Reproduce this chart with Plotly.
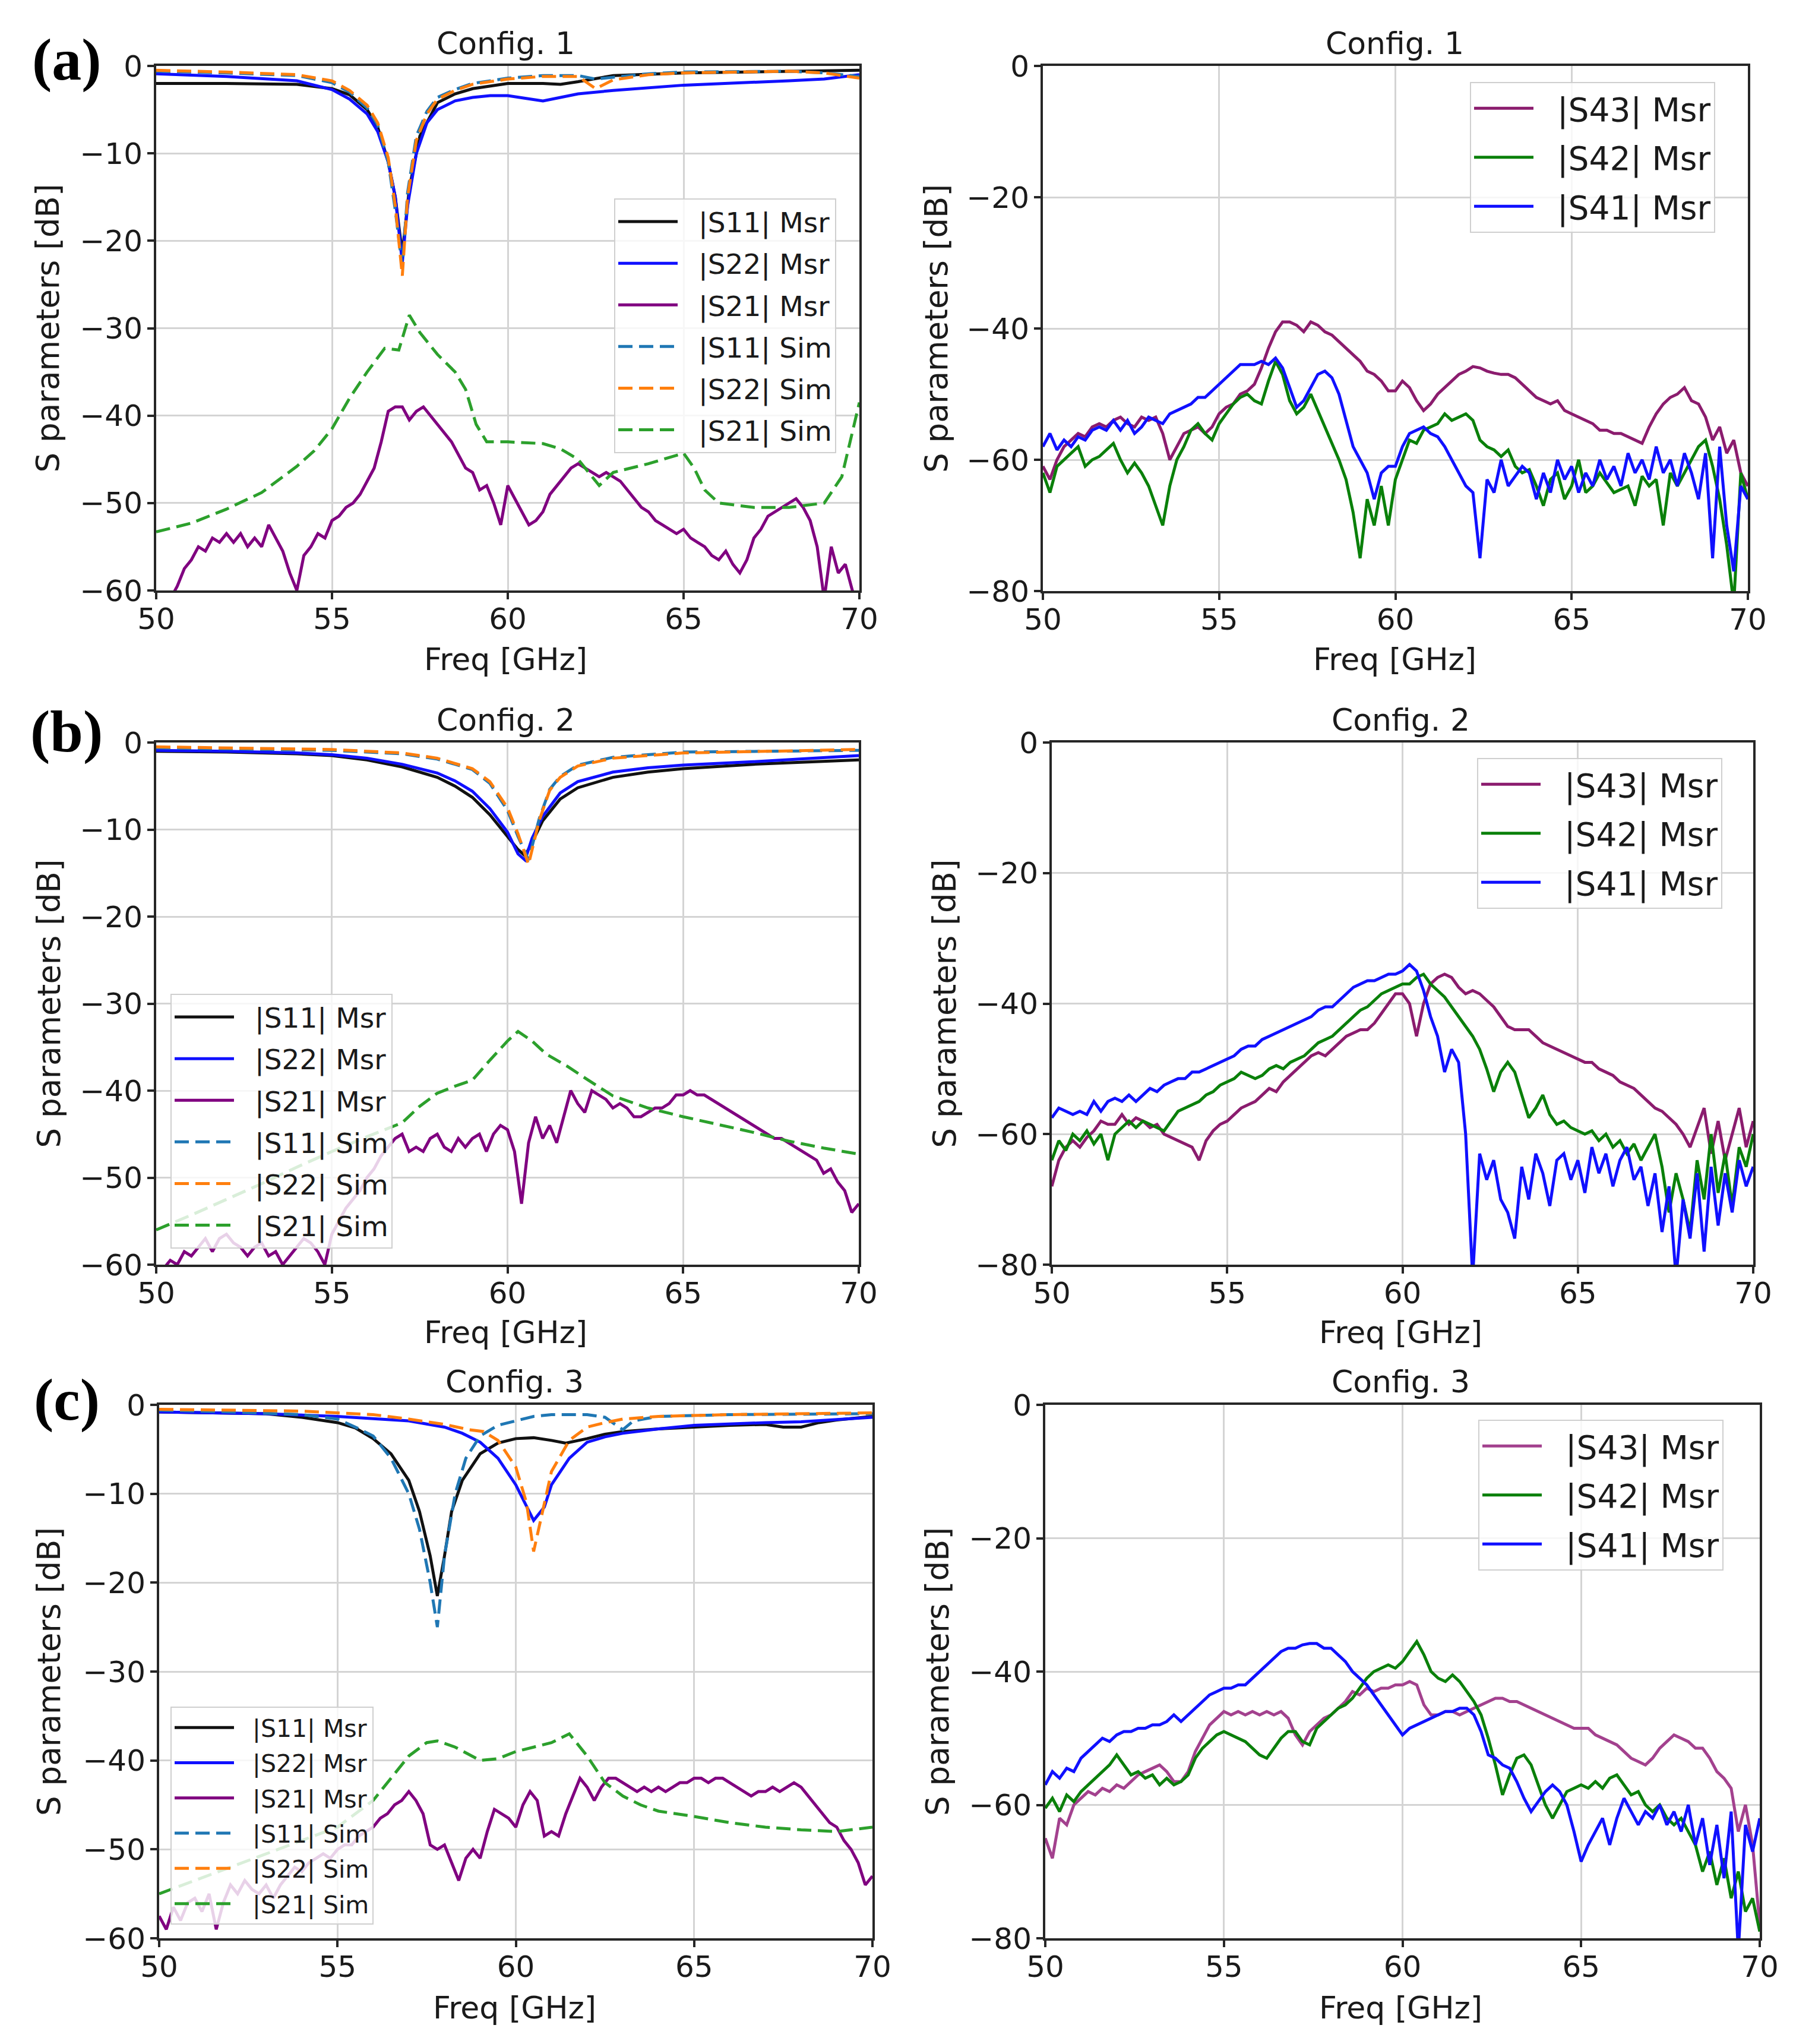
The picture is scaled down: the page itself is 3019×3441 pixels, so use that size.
import plotly.graph_objects as go

W, H = 3019, 3441

# ---------------- data ----------------
FREQ = [round(50 + 0.2 * i, 1) for i in range(101)]   # common measurement grid (GHz)

# ---- Config. 1, reflection / transmission (left) ----
A_S11_MSR_F = [50, 52, 54, 55, 55.5, 56, 56.3, 56.6, 56.8, 57.0, 57.2, 57.5, 58, 58.5, 59, 60, 61, 61.5, 62, 63, 65, 68, 70]
A_S11_MSR = [-2, -2.0, -2.1, -2.6, -3.3, -5, -7, -11, -15, -21.5, -14, -8, -4.2, -3.2, -2.6, -2, -2, -2.1, -1.8, -1.1, -0.8, -0.6, -0.5]
A_S22_MSR_F = [50, 52, 54, 55, 55.5, 56, 56.3, 56.6, 56.8, 57.0, 57.15, 57.4, 57.7, 58, 58.5, 59, 59.5, 60, 60.5, 61, 61.5, 62, 63, 65, 68, 69, 70]
A_S22_MSR = [-0.9, -1.2, -1.7, -2.7, -3.8, -5.5, -7.5, -11, -15, -22.5, -16, -10, -6.5, -5, -4, -3.6, -3.4, -3.4, -3.7, -4, -3.6, -3.2, -2.8, -2.2, -1.7, -1.5, -1.0]
A_S21_MSR = [
    -63, -64, -61, -59.5, -57.5, -56.5, -55, -55.5, -54, -54.5,
    -53.5, -54.5, -53.5, -55, -54, -55, -52.5, -54, -55.5, -58,
    -60, -56, -55, -53.5, -54, -52, -51.5, -50.5, -50, -49,
    -47.5, -46, -43, -39.5, -39, -39, -40.5, -39.5, -39, -40,
    -41, -42, -43, -44.5, -46, -46.5, -48.5, -48, -50, -52.5,
    -48, -49.5, -51, -52.5, -52, -51, -49, -48, -47, -46,
    -45.5, -46, -46.5, -47, -46.5, -47, -47.5, -48.5, -49.5, -50.5,
    -51, -52, -52.5, -53, -53.5, -53, -54, -54.5, -55, -56,
    -56.5, -55.5, -57, -58, -56.5, -54, -53, -51.5, -51, -50.5,
    -50, -49.5, -50.5, -52, -55, -61, -55, -58, -57, -60,
    -61.5]
A_SIM_F = [50, 52, 54, 55, 55.5, 56, 56.3, 56.6, 56.8, 57.0, 57.15, 57.4, 57.7, 58, 58.5, 59, 60, 61, 62, 62.5, 63, 64, 65, 68, 69, 70]
A_S11_SIM = [-0.6, -0.8, -1.1, -1.9, -3.0, -4.8, -6.8, -11, -16.5, -23, -14.5, -8, -5.2, -3.6, -2.7, -2.0, -1.4, -1.1, -1.1, -1.5, -1.3, -0.9, -0.7, -0.6, -0.8, -1.2]
A_S22_SIM = [-0.5, -0.7, -1.0, -1.7, -2.8, -4.5, -6.5, -10.5, -16, -24, -15, -8.5, -5.5, -3.8, -2.8, -2.1, -1.5, -1.2, -1.2, -2.6, -1.6, -1.0, -0.8, -0.6, -0.8, -1.4]
A_S21_SIM_F = [50, 51, 52, 53, 54, 54.5, 55, 55.5, 56, 56.5, 56.9, 57.2, 57.5, 58, 58.5, 58.8, 59.1, 59.4, 60, 61, 61.5, 62, 62.3, 62.6, 63, 64, 65, 65.3, 65.6, 66, 67, 68, 69, 69.5, 70]
A_S21_SIM = [-53.3, -52.3, -50.7, -48.8, -45.8, -44, -41.5, -38, -35, -32.3, -32.5, -28.5, -30.5, -33, -35, -37, -41, -43, -43, -43.2, -43.8, -45, -46.5, -48, -46.5, -45.5, -44.3, -46, -48.5, -50, -50.5, -50.5, -50, -47, -38.5]

# ---- Config. 1, coupling (right) ----
A_S43 = [
    -61, -63, -60, -58, -57, -56, -56.5, -55, -54.5, -55,
    -54, -53.5, -54.5, -55, -53.5, -54, -53.5, -56, -60, -58,
    -56, -55.5, -55, -56, -55, -53, -52, -51.5, -50, -49.5,
    -48.5, -46, -43, -40.5, -39, -39, -39.5, -40.5, -39, -39.5,
    -40.5, -41, -42, -43, -44, -45, -46.5, -47, -48, -49.5,
    -49.5, -48, -49, -51, -52.5, -51.5, -50, -49, -48, -47,
    -46.5, -45.8, -46, -46.5, -46.8, -47, -47, -47.5, -48.5, -49.5,
    -50.5, -51, -51.5, -51, -52.5, -53, -53.5, -54, -54.5, -55.5,
    -55.5, -56, -56, -56.5, -57, -57.5, -55, -53, -51.5, -50.5,
    -50, -49, -51, -51.5, -53.5, -57, -55, -59, -57, -62,
    -64]
A_S42 = [
    -62, -65, -61, -60, -59, -58, -61, -60, -59.5, -58.5,
    -57.5, -60, -62, -60.5, -62, -64, -67, -70, -64, -60,
    -58, -55.5, -54.5, -56, -57, -54.5, -53, -51.5, -50.5, -50,
    -51, -51.5, -48, -45, -47, -51, -53, -52, -50, -52.5,
    -55, -57.5, -60, -63, -68, -75, -66, -70, -64, -70,
    -63, -60, -57, -57.5, -55.5, -55, -54.5, -53, -54, -53.5,
    -53, -54, -57, -58, -58.5, -59.5, -58.5, -61, -62, -61.5,
    -64, -67, -63, -62, -66, -64, -60, -65, -64, -62,
    -63.5, -65, -64.5, -64, -67, -62.5, -64, -63, -70, -62,
    -64, -62, -60, -58, -57, -61, -66, -73, -82, -62,
    -66]
A_S41 = [
    -58, -56, -58.5, -57, -58, -56.5, -57, -55.5, -55, -55.5,
    -54, -55.5, -54, -56, -55, -53.5, -54, -54.5, -53, -52.5,
    -52, -51.5, -50.5, -50.5, -49.5, -48.5, -47.5, -46.5, -45.5, -45.5,
    -45.5, -45, -45.5, -44.5, -46, -49, -52, -51, -49, -47,
    -46.5, -47.5, -50, -54, -58, -60, -62, -66, -62, -61,
    -61, -58, -56, -55.5, -55, -56, -56.5, -58, -60, -62,
    -64, -65, -75, -63, -65, -60, -64, -62.5, -61, -62,
    -66, -62, -65, -60, -63, -61, -65, -62, -64, -60,
    -63, -61, -64, -59, -62, -60, -63, -58, -62, -60,
    -64, -59, -62, -66, -59, -75, -58, -70, -77, -64,
    -66]

# ---- Config. 2, left ----
B_MSR_F = [50, 52, 54, 55, 56, 57, 58, 58.5, 59, 59.5, 60, 60.3, 60.5, 60.7, 61, 61.5, 62, 63, 64, 65, 67, 70]
B_S11_MSR = [-1, -1.1, -1.3, -1.5, -2, -2.8, -4, -5, -6.3, -8.3, -10.8, -12.3, -13, -11.5, -9, -6.5, -5.2, -4, -3.4, -3, -2.5, -2]
B_S22_MSR = [-0.9, -1.0, -1.2, -1.4, -1.8, -2.5, -3.5, -4.4, -5.6, -7.6, -10.3, -12.8, -13.5, -11, -8.5, -5.8, -4.5, -3.4, -2.9, -2.6, -2.2, -1.5]
B_S21_MSR = [
    -61, -60.5, -59.5, -60, -58.5, -59, -58, -57, -58.5, -57,
    -56.5, -57.5, -58, -59, -58, -57.5, -59, -58.5, -60, -59,
    -58, -57, -57.5, -58.5, -60, -56.5, -55, -53.5, -52.5, -51.5,
    -50, -49, -47.5, -46.5, -45.5, -45, -47, -46.5, -47, -45.5,
    -45, -46.5, -47, -45.5, -46.5, -45.5, -45, -47, -45, -44,
    -44.5, -47, -53, -46, -43, -45.5, -44, -46, -43, -40,
    -41.5, -42.5, -40, -40.5, -41, -42, -41.5, -42, -43, -43,
    -42.5, -42, -42, -41.5, -40.5, -40.5, -40, -40.5, -40.5, -41,
    -41.5, -42, -42.5, -43, -43.5, -44, -44.5, -45, -45.5, -45.5,
    -46, -46.5, -47, -47.5, -48, -49.5, -49, -50.5, -51.5, -54,
    -53]
B_SIM_F = [50, 52, 55, 57, 58, 59, 59.5, 60, 60.3, 60.6, 60.9, 61.2, 61.5, 62, 63, 65, 70]
B_S11_SIM = [-0.6, -0.7, -0.9, -1.3, -1.9, -3.1, -4.7, -7.8, -10.8, -13.5, -8.8, -5.4, -3.9, -2.6, -1.7, -1.1, -0.9]
B_S22_SIM = [-0.5, -0.6, -0.8, -1.2, -1.8, -3, -4.5, -7.5, -10.5, -14, -9, -5.5, -4, -2.7, -1.8, -1.2, -0.8]
B_S21_SIM_F = [50, 51, 52, 53, 54, 55, 56, 57, 57.5, 58, 58.5, 59, 59.5, 60, 60.3, 60.7, 61.1, 61.7, 62.3, 63, 64, 65, 66, 67, 68, 69, 70]
B_S21_SIM = [-56, -54.3, -52.5, -50.7, -48.8, -47, -45.3, -43.7, -41.8, -40.3, -39.5, -38.8, -36.5, -34.3, -33.2, -34.3, -35.8, -37.2, -38.8, -40.6, -42, -43, -43.9, -44.8, -45.8, -46.6, -47.3]

# ---- Config. 2, right ----
B_S43 = [
    -68, -64, -62, -61, -62, -60.5, -59.5, -58, -58.5, -58.5,
    -57, -58.5, -57.5, -58, -59, -58.5, -60, -60.5, -61, -61.5,
    -62, -64, -61, -59.5, -58.5, -58, -57, -56, -55.5, -55,
    -54, -53, -53.5, -52, -51, -50, -49, -48, -47.5, -48,
    -47, -46, -45, -44.5, -44, -44, -43, -41.5, -40, -38.5,
    -38.5, -40, -45, -40, -37, -36, -35.5, -36, -37.5, -38.5,
    -38, -38.5, -39.5, -40.5, -42, -43.5, -44, -44, -44, -45,
    -46, -46.5, -47, -47.5, -48, -48.5, -49, -49, -50, -50.5,
    -51, -52, -52.5, -53, -54, -55, -56, -56.5, -57.5, -58.5,
    -60, -62, -59, -56, -63, -58, -64, -60, -56, -62,
    -58]
B_S42 = [
    -64, -61, -62.5, -60, -61, -59.5, -61.5, -60, -64, -60,
    -59, -58, -59, -58, -58.5, -59, -59.5, -58, -56.5, -56,
    -55.5, -55, -54, -53.5, -52.5, -52, -51.5, -50.5, -51, -51.5,
    -51, -50, -49.5, -50, -49, -48.5, -48, -47, -46, -45.5,
    -45, -44, -43, -42, -41, -40.5, -39.5, -38.5, -38, -37.5,
    -37, -37, -36, -35.5, -37, -38, -39, -40.5, -42, -43.5,
    -45, -47, -50, -53.5, -50.5, -49, -50.5, -54, -57.5, -56,
    -54, -57, -58.5, -58, -59, -59.5, -60, -59.5, -61, -60,
    -62, -61, -63, -61.5, -64, -62, -60, -65, -72, -66,
    -70, -75, -64, -70, -60, -69, -63, -71, -62, -65,
    -60]
B_S41 = [
    -57.5, -56, -56.5, -57, -56.5, -57, -55, -56.5, -55, -54.5,
    -55, -54, -55, -54, -53, -53.5, -52.5, -52, -51.5, -51.5,
    -50.5, -50.5, -50, -49.5, -49, -48.5, -48, -47, -46.5, -46.5,
    -45.5, -45, -44.5, -44, -43.5, -43, -42.5, -42, -41, -40.5,
    -40.5, -39.5, -38.5, -37.5, -37, -36.5, -36.5, -36, -35.5, -35.5,
    -35, -34, -35, -38, -42, -45, -50.5, -47, -49, -60,
    -82, -63, -67, -64, -70, -72, -76, -65, -70, -63,
    -66, -71, -64, -63, -67, -64, -69, -62, -66, -63,
    -68, -64, -62, -67, -65, -71, -66, -75, -68, -82,
    -70, -76, -66, -78, -65, -74, -66, -72, -64, -68,
    -65]

# ---- Config. 3, left ----
C_S11_MSR_F = [50, 52, 53, 54, 55, 55.5, 56, 56.5, 57, 57.3, 57.6, 57.8, 58.0, 58.2, 58.5, 59, 59.5, 60, 60.5, 61, 61.4, 62, 62.5, 63, 64, 65, 66, 67, 67.5, 68, 68.5, 69, 70]
C_S11_MSR = [-0.8, -0.9, -1.0, -1.4, -2.0, -2.6, -3.8, -5.5, -8.5, -12, -17, -21.5, -17, -12, -8.5, -5.5, -4.3, -3.8, -3.7, -4.0, -4.3, -3.8, -3.3, -3.0, -2.7, -2.5, -2.3, -2.2, -2.5, -2.5, -2.0, -1.7, -1.3]
C_S22_MSR_F = [50, 53, 55, 57, 58, 58.5, 59, 59.5, 60, 60.3, 60.5, 60.8, 61, 61.5, 62, 62.5, 63, 64, 65, 67, 68, 70]
C_S22_MSR = [-0.8, -1.0, -1.3, -1.8, -2.5, -3.2, -4.2, -6, -9, -11.5, -13, -11.5, -9, -6, -4.2, -3.6, -3.2, -2.7, -2.3, -2.0, -1.9, -1.4]
C_S21_MSR = [
    -57.5, -59, -56.5, -58, -56, -55.5, -57, -55, -59, -56,
    -54, -55, -53.5, -54.5, -55, -54, -55.5, -54, -53, -52,
    -52.5, -51.5, -51, -50.5, -51, -50, -49.5, -49.5, -48.5, -48,
    -47.5, -46.5, -46, -45, -44.5, -43.5, -44.5, -46, -49.5, -50,
    -49.5, -51.5, -53.5, -51, -50, -51, -48, -45.5, -46, -46.5,
    -47.5, -45, -43.5, -44.5, -48.5, -48, -48.5, -46, -44, -42,
    -43, -44.5, -43, -42, -42, -42.5, -43, -43.5, -43, -43.5,
    -43, -43.5, -43, -42.5, -42.5, -42, -42, -42.5, -42, -42,
    -42.5, -43, -43.5, -44, -43.5, -43.5, -43, -43.5, -43, -42.5,
    -43, -44, -45, -46, -47, -47.5, -49, -50, -51.5, -54,
    -53]
C_S11_SIM_F = [50, 52, 54, 55, 55.5, 56, 56.5, 57, 57.3, 57.6, 57.8, 58.0, 58.3, 58.6, 59, 59.5, 60, 60.5, 61, 62, 62.5, 63, 63.3, 64, 66, 70]
C_S11_SIM = [-0.6, -0.8, -1.1, -1.6, -2.5, -3.5, -6, -10, -14, -20, -25, -17, -10, -6, -3.5, -2.3, -1.8, -1.3, -1.1, -1.1, -1.4, -2.8, -1.8, -1.3, -1.1, -1.0]
C_S22_SIM_F = [50, 54, 56, 57, 58, 58.7, 59.1, 59.5, 60, 60.3, 60.5, 60.8, 61, 61.5, 62, 62.5, 63, 64, 66, 70]
C_S22_SIM = [-0.5, -0.7, -1.1, -1.6, -2.2, -2.8, -3.0, -4.0, -7.0, -11, -16.5, -11, -7.5, -4.0, -2.5, -2.0, -1.6, -1.3, -1.1, -0.9]
C_S21_SIM_F = [50, 51, 52, 53, 54, 55, 56, 56.5, 57, 57.5, 57.8, 58.3, 59, 59.5, 60, 60.5, 61, 61.5, 62, 62.5, 63, 63.5, 64, 65, 66, 67, 68, 69, 70]
C_S21_SIM = [-55, -53.5, -52, -50.5, -49, -47.5, -44.5, -42, -39.5, -38, -37.8, -38.5, -40, -39.8, -39, -38.5, -38, -37, -39.5, -42.5, -44, -45, -45.7, -46.3, -47, -47.5, -47.8, -48, -47.5]

# ---- Config. 3, right ----
C_S43 = [
    -65, -68, -62, -63, -60, -59, -58, -58.5, -57.5, -58,
    -57, -57.5, -56.5, -55.5, -55, -54.5, -54, -55, -56.5, -56.5,
    -55, -52, -50, -48, -47, -46, -46.5, -46, -46.5, -46,
    -46.5, -46, -46.5, -46, -47, -49.5, -51, -49, -48, -47,
    -46.5, -45.5, -44.5, -43, -43.5, -42.5, -43, -42.5, -42.5, -42,
    -42, -41.5, -42, -45, -46.5, -46.5, -46, -46, -46.5, -46,
    -45.5, -45, -44.5, -44, -44, -44.5, -44.5, -45, -45.5, -46,
    -46.5, -47, -47.5, -48, -48.5, -48.5, -48.5, -49.5, -50, -50.5,
    -51, -52, -53, -53.5, -54, -53, -51.5, -50.5, -49.5, -50,
    -50.5, -51.5, -51.5, -53, -55, -56, -57.5, -64, -60, -66,
    -78]
C_S42 = [
    -60.5, -59, -61, -58.5, -59.5, -58, -57, -56, -55, -54,
    -52.5, -54, -55.5, -55, -56, -55.5, -57, -56, -57, -56.5,
    -55.5, -53, -51.5, -50.5, -49.5, -49, -49.5, -50, -50.5, -51.5,
    -52.5, -53, -51.5, -50, -49, -49, -50.5, -51, -48.5, -47.5,
    -46.5, -45.5, -45, -44, -42.5, -41, -40, -39.5, -39, -39.5,
    -38.5, -37, -35.5, -37.5, -40, -41, -41.5, -40.5, -41.5, -43,
    -44.5, -46.5, -50, -54, -58.5, -55.5, -53, -52.5, -54, -57,
    -60, -62, -60, -58, -57.5, -57, -57.5, -56.5, -57.5, -56,
    -55.5, -57, -58.5, -58, -60, -61, -60, -62, -63, -62,
    -64, -66, -70, -67, -72, -68, -74, -70, -76, -74,
    -79]
C_S41 = [
    -57, -55, -56, -54.5, -55, -53, -52, -51, -50, -50.5,
    -49.5, -49, -49, -48.5, -48.5, -48, -48, -47.5, -46.5, -47.5,
    -46.5, -45.5, -44.5, -43.5, -43, -42.5, -42.5, -42, -42, -41,
    -40, -39, -38, -37, -36.5, -36.5, -36, -35.8, -35.8, -36.5,
    -36.5, -37.5, -38.5, -40, -41, -42, -43.5, -45, -46.5, -48,
    -49.5, -48.5, -48, -47.5, -47, -46.5, -46, -46, -45.5, -45.5,
    -46.5, -49, -52.5, -53, -54, -54.5, -56.5, -59, -61, -59.5,
    -58, -57, -58, -60, -64, -68.5, -66, -64, -62, -66,
    -62, -59, -61, -63, -61, -62, -60, -63, -61, -64,
    -60, -66, -62, -69, -63, -71, -61, -82, -63, -67,
    -62]

# ---------------- styling / layout constants ----------------
COL_BLACK, COL_BLUE, COL_PURPLE = "#111111", "#1010ff", "#800080"
COL_TBLUE, COL_TORANGE, COL_TGREEN = "#1f77b4", "#ff7f0e", "#2ca02c"
COL_S43, COL_S43_C, COL_S42, COL_S41 = "#8b1c6e", "#a3418e", "#0a800a", "#1010ff"
FONT = "DejaVu Sans"
LW = 5
DASH = "24px,11px"
NB = "\u00a0\u00a0"
OFF = 8   # page body margin of the html page, compensated here

# plot boxes in target-image pixels (x0, x1, y0, y1)
BOXES = {
    1: (263, 1447, 111, 994),
    2: (1756, 2943, 111, 995),
    3: (263, 1446, 1250, 2129),
    4: (1771, 2952, 1250, 2129),
    5: (268, 1469, 2365, 3263),
    6: (1760, 2963, 2365, 3263),
}


def px(x):
    return (x - OFF) / W


def py(y):
    return 1 - (y - OFF) / H


fig = go.Figure()
_count = [0]


def add(panel, x, y, name, color, dash=None, legend=None):
    _count[0] += 1
    fig.add_trace(go.Scatter(
        x=x, y=y, name=NB + name, mode="lines",
        line=dict(color=color, width=LW, dash=dash if dash else "solid"),
        xaxis="x" if panel == 1 else f"x{panel}",
        yaxis="y" if panel == 1 else f"y{panel}",
        legend=legend, legendgroup=f"g{_count[0]}", showlegend=True,
    ))


# panel 1
add(1, A_S11_MSR_F, A_S11_MSR, "|S11| Msr", COL_BLACK, legend="legend")
add(1, A_S22_MSR_F, A_S22_MSR, "|S22| Msr", COL_BLUE, legend="legend")
add(1, FREQ, A_S21_MSR, "|S21| Msr", COL_PURPLE, legend="legend")
add(1, A_SIM_F, A_S11_SIM, "|S11| Sim", COL_TBLUE, DASH, "legend")
add(1, A_SIM_F, A_S22_SIM, "|S22| Sim", COL_TORANGE, DASH, "legend")
add(1, A_S21_SIM_F, A_S21_SIM, "|S21| Sim", COL_TGREEN, DASH, "legend")
# panel 2
add(2, FREQ, A_S43, "|S43| Msr", COL_S43, legend="legend2")
add(2, FREQ, A_S42, "|S42| Msr", COL_S42, legend="legend2")
add(2, FREQ, A_S41, "|S41| Msr", COL_S41, legend="legend2")
# panel 3
add(3, B_MSR_F, B_S11_MSR, "|S11| Msr", COL_BLACK, legend="legend3")
add(3, B_MSR_F, B_S22_MSR, "|S22| Msr", COL_BLUE, legend="legend3")
add(3, FREQ, B_S21_MSR, "|S21| Msr", COL_PURPLE, legend="legend3")
add(3, B_SIM_F, B_S11_SIM, "|S11| Sim", COL_TBLUE, DASH, "legend3")
add(3, B_SIM_F, B_S22_SIM, "|S22| Sim", COL_TORANGE, DASH, "legend3")
add(3, B_S21_SIM_F, B_S21_SIM, "|S21| Sim", COL_TGREEN, DASH, "legend3")
# panel 4
add(4, FREQ, B_S43, "|S43| Msr", COL_S43, legend="legend4")
add(4, FREQ, B_S42, "|S42| Msr", COL_S42, legend="legend4")
add(4, FREQ, B_S41, "|S41| Msr", COL_S41, legend="legend4")
# panel 5
add(5, C_S11_MSR_F, C_S11_MSR, "|S11| Msr", COL_BLACK, legend="legend5")
add(5, C_S22_MSR_F, C_S22_MSR, "|S22| Msr", COL_BLUE, legend="legend5")
add(5, FREQ, C_S21_MSR, "|S21| Msr", COL_PURPLE, legend="legend5")
add(5, C_S11_SIM_F, C_S11_SIM, "|S11| Sim", COL_TBLUE, DASH, "legend5")
add(5, C_S22_SIM_F, C_S22_SIM, "|S22| Sim", COL_TORANGE, DASH, "legend5")
add(5, C_S21_SIM_F, C_S21_SIM, "|S21| Sim", COL_TGREEN, DASH, "legend5")
# panel 6
add(6, FREQ, C_S43, "|S43| Msr", COL_S43_C, legend="legend6")
add(6, FREQ, C_S42, "|S42| Msr", COL_S42, legend="legend6")
add(6, FREQ, C_S41, "|S41| Msr", COL_S41, legend="legend6")

layout = dict(
    width=W, height=H, margin=dict(l=0, r=0, t=0, b=0, pad=0, autoexpand=False),
    paper_bgcolor="white", plot_bgcolor="white",
    font=dict(family=FONT, color="#1a1a1a", size=50),
)

AXCOMMON = dict(
    showgrid=True, gridcolor="#d4d4d4", gridwidth=3,
    showline=True, linecolor="#262626", linewidth=4, mirror=True,
    ticks="outside", ticklen=11, tickwidth=3.5, tickcolor="#262626",
    tickfont=dict(family=FONT, size=50, color="#1a1a1a"),
    zeroline=False, fixedrange=True, automargin=False,
)

for k, (x0, x1, y0, y1) in BOXES.items():
    xs = "xaxis" if k == 1 else f"xaxis{k}"
    ys = "yaxis" if k == 1 else f"yaxis{k}"
    left = k in (1, 3, 5)
    layout[xs] = dict(AXCOMMON, domain=[px(x0), px(x1)], range=[50, 70],
                      tickvals=[50, 55, 60, 65, 70], ticklabelstandoff=-10,
                      anchor="y" if k == 1 else f"y{k}")
    layout[ys] = dict(AXCOMMON, domain=[py(y1), py(y0)],
                      range=[-60, 0] if left else [-80, 0],
                      tickvals=[0, -10, -20, -30, -40, -50, -60] if left else [0, -20, -40, -60, -80],
                      ticklabelstandoff=-2,
                      anchor="x" if k == 1 else f"x{k}")

LEG = dict(bgcolor="rgba(255,255,255,0.82)", bordercolor="#cfcfcf", borderwidth=2,
           xanchor="left", yanchor="top", itemwidth=100, traceorder="grouped")
# legend positions (top-left corner, px), font sizes and extra row spacing
layout["legend"] = dict(LEG, x=px(1034), y=py(334), tracegroupgap=6,
                        font=dict(family=FONT, size=47, color="#1a1a1a"))
layout["legend2"] = dict(LEG, x=px(2475), y=py(138), tracegroupgap=8,
                         font=dict(family=FONT, size=55, color="#1a1a1a"))
layout["legend3"] = dict(LEG, x=px(287), y=py(1673), tracegroupgap=6,
                         font=dict(family=FONT, size=47, color="#1a1a1a"))
layout["legend4"] = dict(LEG, x=px(2487), y=py(1276), tracegroupgap=8,
                         font=dict(family=FONT, size=55, color="#1a1a1a"))
layout["legend5"] = dict(LEG, x=px(287), y=py(2873), tracegroupgap=3,
                         font=dict(family=FONT, size=41, color="#1a1a1a"))
layout["legend6"] = dict(LEG, x=px(2489), y=py(2390), tracegroupgap=8,
                         font=dict(family=FONT, size=55, color="#1a1a1a"))

ann = []


def text(x, y, s, size=52, angle=0, family=FONT, color="#1a1a1a"):
    ann.append(dict(x=px(x), y=py(y), xref="paper", yref="paper", text=s,
                    showarrow=False, textangle=angle, xanchor="center", yanchor="middle",
                    font=dict(family=family, size=size, color=color)))


# titles
text(852, 73, "Config. 1")
text(2348, 73, "Config. 1")
text(852, 1212, "Config. 2")
text(2358, 1212, "Config. 2")
text(866, 2326, "Config. 3")
text(2358, 2326, "Config. 3")
# x titles
text(852, 1110, "Freq [GHz]")
text(2348, 1110, "Freq [GHz]")
text(852, 2243, "Freq [GHz]")
text(2358, 2243, "Freq [GHz]")
text(866, 3380, "Freq [GHz]")
text(2358, 3380, "Freq [GHz]")
# y titles
for (xc, k) in [(80, 1), (1576, 2), (82, 3), (1590, 4), (82, 5), (1578, 6)]:
    x0, x1, y0, y1 = BOXES[k]
    text(xc, (y0 + y1) / 2, "S parameters [dB]", size=53, angle=-90)
# panel labels
text(112, 101, "<b>(a)</b>", size=100, family="Liberation Serif", color="#000000")
text(112, 1232, "<b>(b)</b>", size=100, family="Liberation Serif", color="#000000")
text(112, 2356, "<b>(c)</b>", size=100, family="Liberation Serif", color="#000000")

layout["annotations"] = ann
fig.update_layout(**layout)
fig.write_html("out.html")
